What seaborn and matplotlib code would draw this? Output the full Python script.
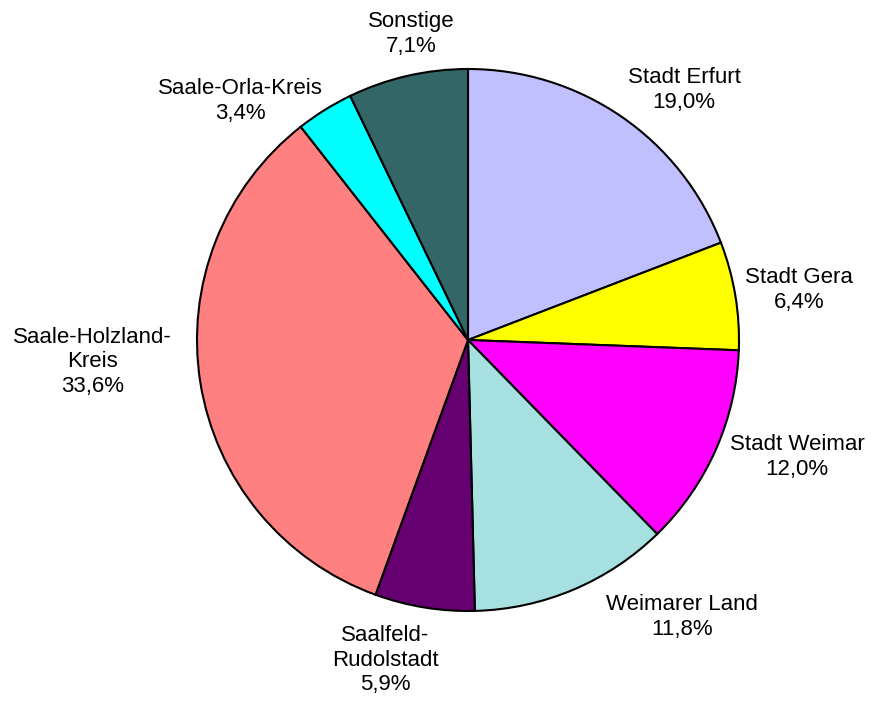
import matplotlib
matplotlib.use("Agg")
import matplotlib.pyplot as plt
import seaborn as sns

categories = ["Stadt Erfurt", "Stadt Gera", "Stadt Weimar", "Weimarer Land",
              "Saalfeld-\nRudolstadt", "Saale-Holzland-\nKreis", "Saale-Orla-Kreis", "Sonstige"]
values = [19.0, 6.4, 12.0, 11.8, 5.9, 33.6, 3.4, 7.1]
colors = ["#C0C0FF", "#FFFF00", "#FF00FF", "#A6E0E0", "#660070", "#FF8080", "#00FFFF", "#336666"]
# label positions in units of the pie radius
label_pos = [(0.797, 0.923), (1.221, 0.185), (1.214, -0.432), (0.790, -1.022),
             (-0.306, -1.181), (-1.387, -0.081), (-0.841, 0.882), (-0.210, 1.129)]

sns.set_theme(style="white")
plt.rcParams['font.family'] = ['Liberation Sans', 'DejaVu Sans']

fig = plt.figure(figsize=(8.73, 7.04), dpi=100)
cx, cy, r = 468, 340, 271
ax = fig.add_axes([(cx - r) / 873, (704 - cy - r) / 704, 2 * r / 873, 2 * r / 704])

labels = [f"{c}\n{v:.1f}%".replace(".", ",") for c, v in zip(categories, values)]
wedges, texts = ax.pie(values, colors=colors, startangle=90, counterclock=False,
                       labels=labels, labeldistance=1.2,
                       wedgeprops=dict(edgecolor="black", linewidth=1.5),
                       textprops=dict(fontsize=16, color="black"))
for t, (x, y) in zip(texts, label_pos):
    t.set_position((x, y))
    t.set_ha("center")
    t.set_va("center")
    t.set_multialignment("center")
    t.set_linespacing(1.22)

ax.set_xlim(-1, 1)
ax.set_ylim(-1, 1)
ax.set_aspect("equal")
ax.axis("off")
fig.savefig("out.png", dpi=100, facecolor="white")
